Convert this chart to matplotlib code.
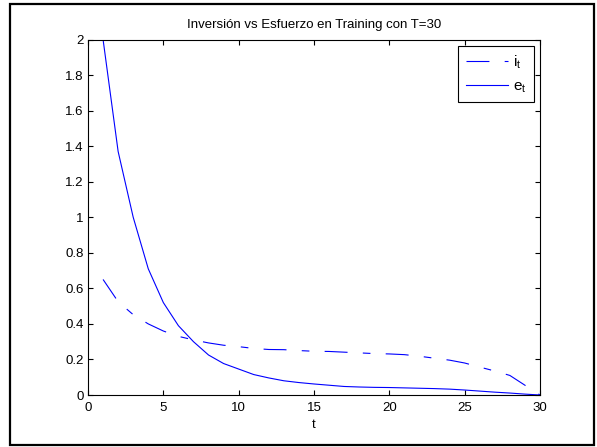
import matplotlib
matplotlib.use("Agg")
import matplotlib.pyplot as plt
from matplotlib.patches import Rectangle

plt.rcParams['font.family'] = ['Liberation Sans', 'DejaVu Sans']
plt.rcParams['mathtext.fontset'] = 'custom'
plt.rcParams['mathtext.rm'] = 'Liberation Sans'
plt.rcParams['mathtext.it'] = 'Liberation Sans'
plt.rcParams['mathtext.default'] = 'regular'
plt.rcParams['lines.scale_dashes'] = False

# Periods
t = list(range(1, 31))

# Investment i_t
inversion = [0.65, 0.525, 0.452, 0.40, 0.36, 0.33, 0.31, 0.293, 0.28, 0.272,
             0.262, 0.256, 0.255, 0.25, 0.246, 0.245, 0.241, 0.237, 0.233, 0.231,
             0.227, 0.218, 0.207, 0.196, 0.18, 0.157, 0.135, 0.11, 0.055, 0.0]

# Effort e_t
esfuerzo = [2.0, 1.37, 1.0, 0.71, 0.52, 0.39, 0.30, 0.225, 0.177, 0.146,
            0.115, 0.096, 0.08, 0.07, 0.062, 0.055, 0.048, 0.045, 0.043, 0.042,
            0.04, 0.038, 0.036, 0.033, 0.028, 0.022, 0.016, 0.011, 0.005, 0.0]

x_ticks = [0, 5, 10, 15, 20, 25, 30]
y_ticks = [0, 0.2, 0.4, 0.6, 0.8, 1, 1.2, 1.4, 1.6, 1.8, 2]
y_labels = ['0', '0.2', '0.4', '0.6', '0.8', '1', '1.2', '1.4', '1.6', '1.8', '2']

W, H = 597, 447
FS = 9.5
fig = plt.figure(figsize=(W / 100, H / 100), dpi=100)
fig.patch.set_facecolor('white')

# outer frame around the whole figure
fig.add_artist(Rectangle((10 / W, 1 - 445 / H), 584 / W, 441 / H,
                         transform=fig.transFigure, fill=False,
                         edgecolor='black', linewidth=1.6))

ax = fig.add_axes([88 / W, 1 - 395 / H, 452 / W, 355.5 / H])

blue = (0, 0, 1)
l1, = ax.plot(t, inversion, color=blue, linewidth=0.8,
              label=r'$i_t$')
l1.set_dashes([16.5, 11.0, 5.5, 11.0])
l2, = ax.plot(t, esfuerzo, color=blue, linewidth=0.8, linestyle='-',
              label=r'$e_t$')

ax.set_xlim(0, 30)
ax.set_ylim(0, 2)
ax.set_xticks(x_ticks)
ax.set_yticks(y_ticks)
ax.set_yticklabels(y_labels)
ax.tick_params(direction='in', length=3.5, width=0.8, top=True, right=True,
               labelsize=FS, pad=3, colors='black')
ax.tick_params(axis='x', pad=5)
for s in ax.spines.values():
    s.set_linewidth(0.8)

ax.set_xlabel('t', fontsize=FS, labelpad=4)
ax.set_title(u'Inversión vs Esfuerzo en Training con T=30', fontsize=FS, pad=8)

leg = ax.legend(loc='upper right', bbox_to_anchor=(534 / W, 1 - 46 / H),
                bbox_transform=fig.transFigure, fontsize=11,
                frameon=True, fancybox=False, handlelength=2.75,
                handletextpad=0.35, borderpad=0.5, labelspacing=0.55,
                borderaxespad=0)
leg.get_frame().set_edgecolor('black')
leg.get_frame().set_linewidth(0.8)
leg.get_frame().set_alpha(1)

fig.savefig('out.png', dpi=100)
